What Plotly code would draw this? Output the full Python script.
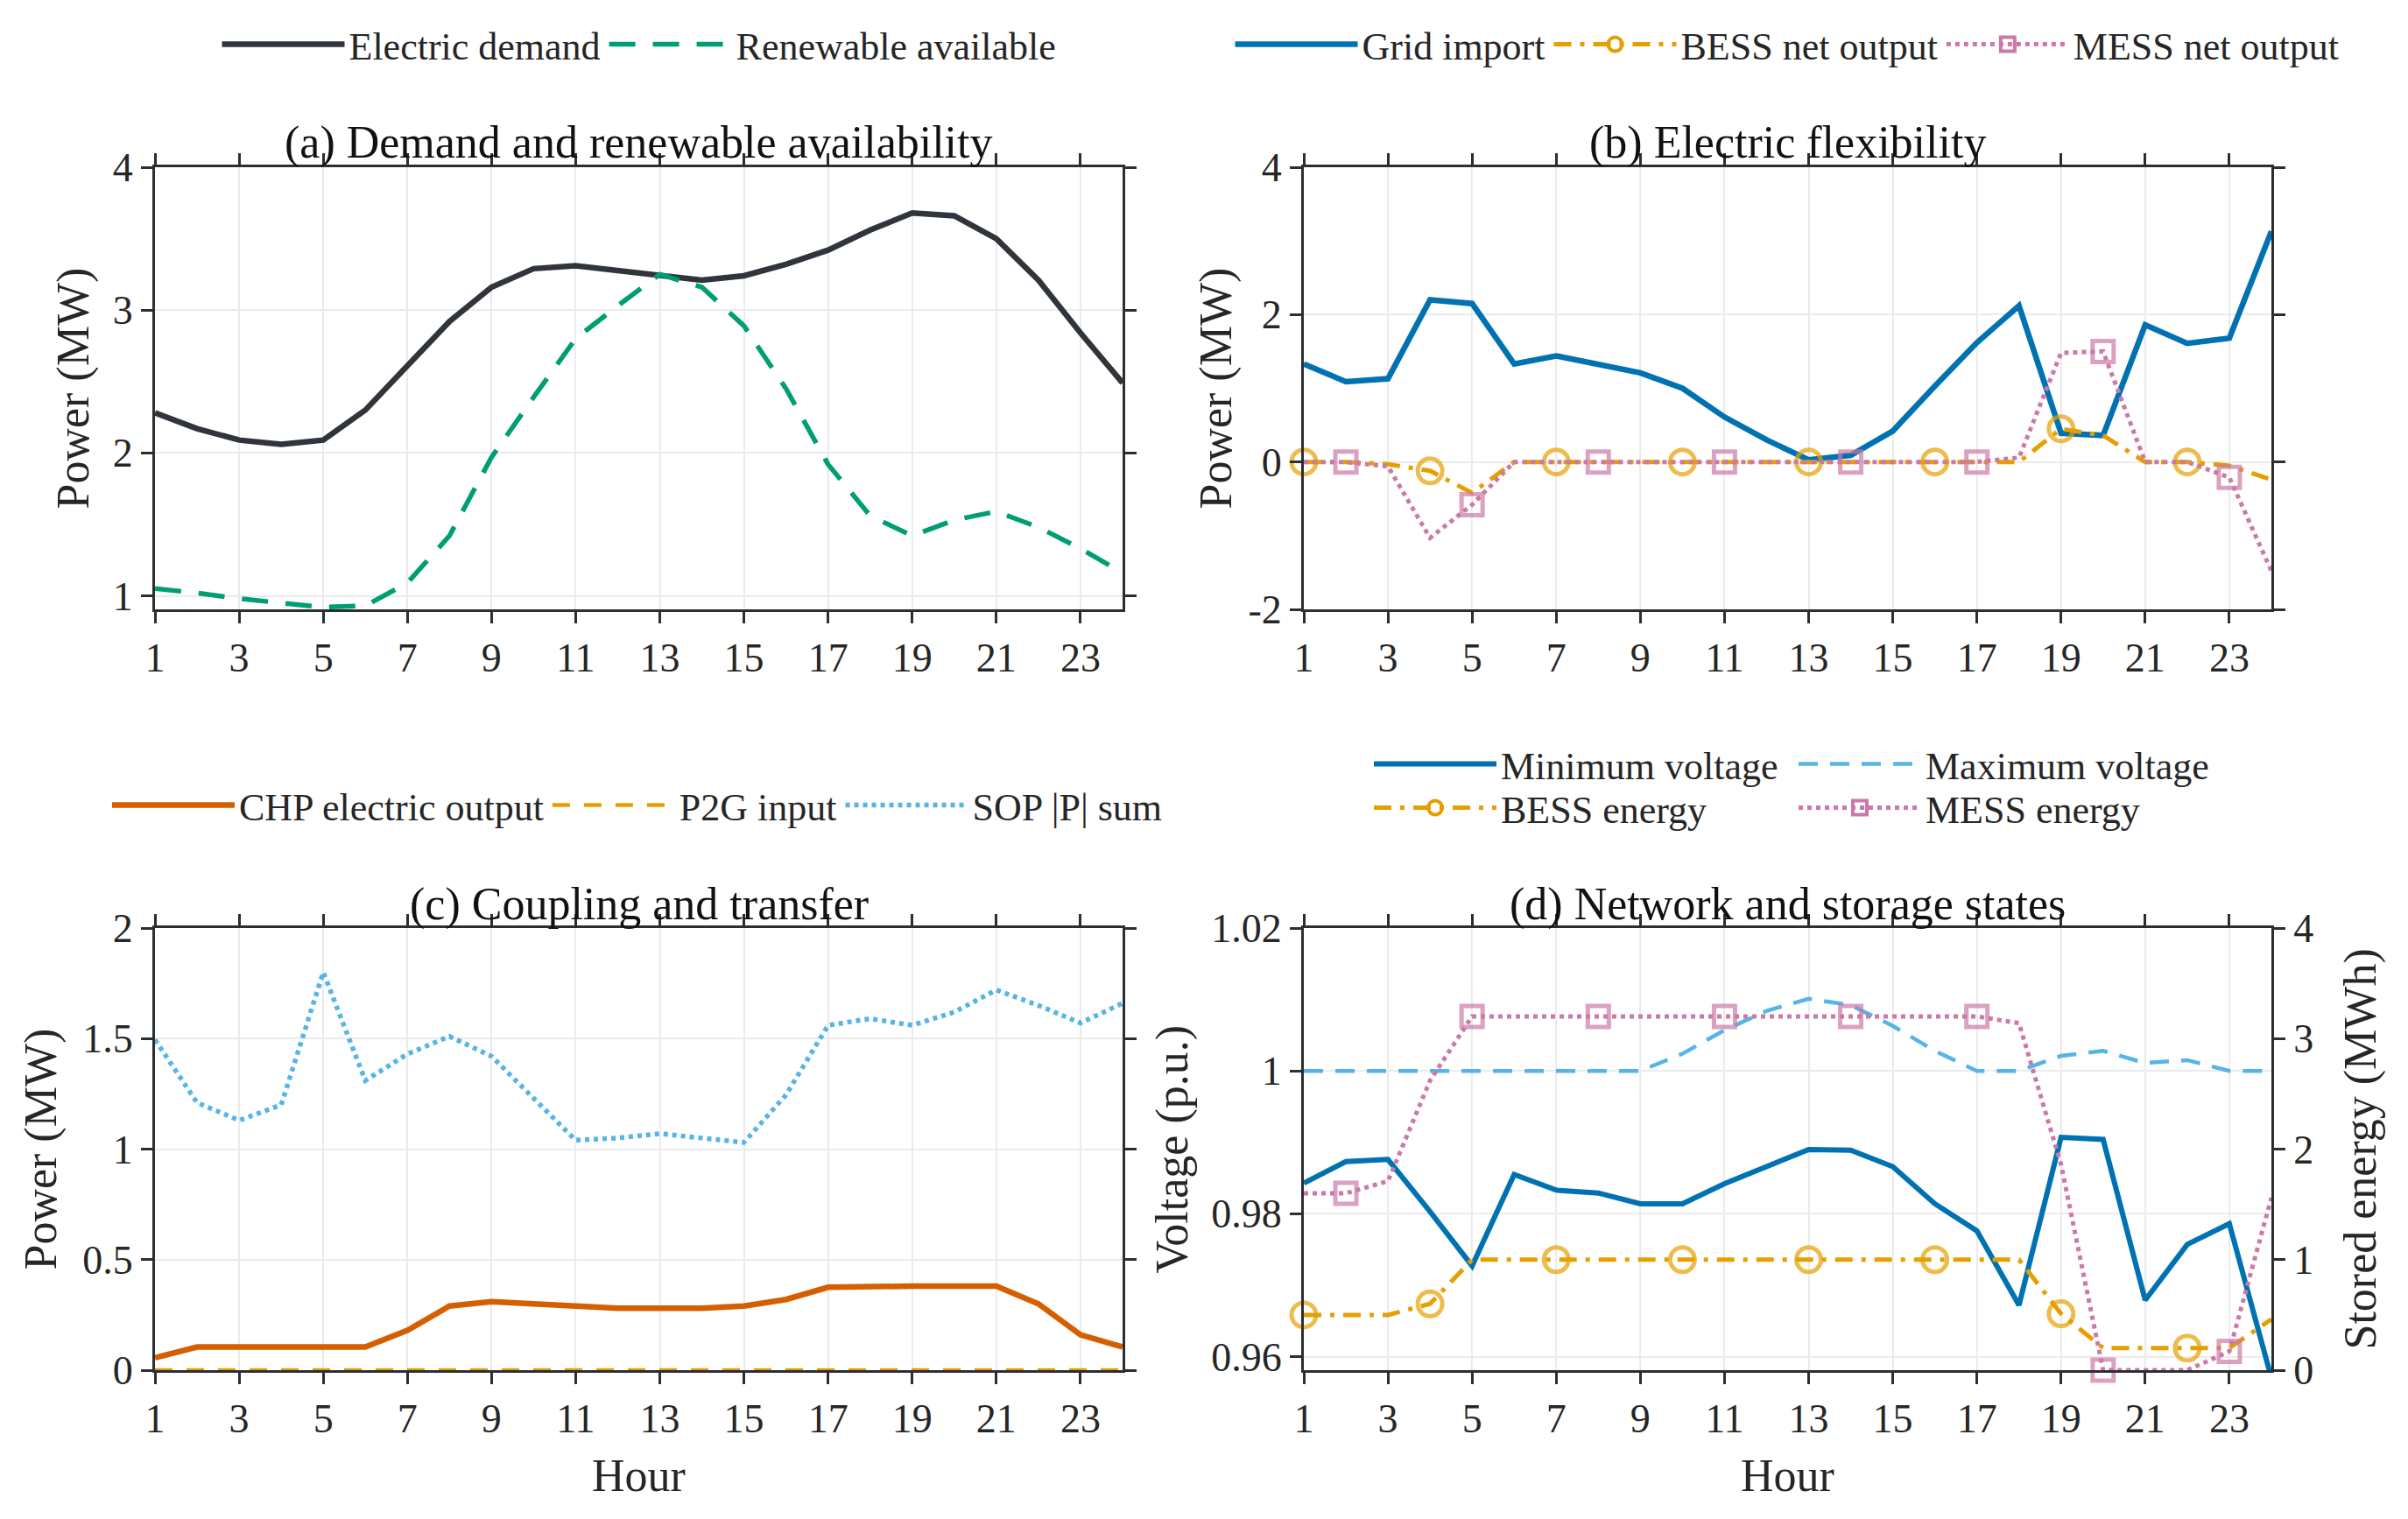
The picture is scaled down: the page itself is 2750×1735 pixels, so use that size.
import plotly.graph_objects as go

# hourly profiles
hours = list(range(1, 25))
hour_ticks = list(range(1, 24, 2))

electric_demand = [2.28, 2.17, 2.09, 2.06, 2.09, 2.30, 2.61, 2.92, 3.16, 3.29, 3.31, 3.28,
                   3.24, 3.21, 3.24, 3.32, 3.42, 3.56, 3.68, 3.66, 3.50, 3.21, 2.84, 2.49]
renewable_available = [1.05, 1.02, 0.98, 0.95, 0.92, 0.93, 1.09, 1.42, 1.97, 2.39, 2.80, 3.03,
                       3.25, 3.16, 2.89, 2.45, 1.92, 1.56, 1.42, 1.53, 1.59, 1.48, 1.33, 1.16]

grid_import = [1.33, 1.09, 1.13, 2.20, 2.15, 1.33, 1.44, 1.32, 1.21, 1.00, 0.61, 0.30,
               0.03, 0.09, 0.42, 1.03, 1.62, 2.12, 0.39, 0.36, 1.86, 1.61, 1.68, 3.13]
bess_net_output = [0.0, 0.0, -0.03, -0.12, -0.42, 0.0, 0.0, 0.0, 0.0, 0.0, 0.0, 0.0,
                   0.0, 0.0, 0.0, 0.0, 0.0, 0.0, 0.45, 0.36, 0.0, 0.0, -0.05, -0.24]
mess_net_output = [0.0, 0.0, -0.06, -1.03, -0.58, 0.0, 0.0, 0.0, 0.0, 0.0, 0.0, 0.0,
                   0.0, 0.0, 0.0, 0.0, 0.0, 0.06, 1.48, 1.50, 0.0, 0.0, -0.21, -1.48]

chp_electric_output = [0.056, 0.105, 0.105, 0.105, 0.105, 0.105, 0.18, 0.29, 0.31, 0.30, 0.285, 0.28,
                       0.28, 0.28, 0.29, 0.32, 0.375, 0.38, 0.38, 0.38, 0.38, 0.30, 0.16, 0.105]
p2g_input = [0, 0, 0, 0, 0, 0, 0, 0, 0, 0, 0, 0,
             0, 0, 0, 0, 0, 0, 0, 0, 0, 0, 0, 0]
sop_p_sum = [1.495, 1.21, 1.13, 1.20, 1.80, 1.31, 1.43, 1.51, 1.42, 1.23, 1.04, 1.05,
             1.07, 1.05, 1.03, 1.245, 1.56, 1.59, 1.56, 1.62, 1.72, 1.65, 1.57, 1.66]

min_voltage = [0.9843, 0.9873, 0.9876, 0.9803, 0.9727, 0.9855, 0.9833, 0.9829, 0.9814, 0.9814, 0.9842, 0.9866,
               0.9890, 0.9889, 0.9866, 0.9814, 0.9776, 0.9672, 0.9907, 0.9904, 0.9679, 0.9757, 0.9786, 0.9570]
max_voltage = [1.0, 1.0, 1.0, 1.0, 1.0, 1.0, 1.0, 1.0, 1.0, 1.0024, 1.0057, 1.0084,
               1.0101, 1.0092, 1.0063, 1.0028, 1.0, 1.0, 1.0021, 1.0028, 1.0011, 1.0015, 1.0, 1.0]
bess_energy = [0.5, 0.5, 0.5, 0.60, 1.0, 1.0, 1.0, 1.0, 1.0, 1.0, 1.0, 1.0,
               1.0, 1.0, 1.0, 1.0, 1.0, 1.0, 0.51, 0.2, 0.2, 0.2, 0.2, 0.46]
mess_energy = [1.60, 1.60, 1.71, 2.62, 3.2, 3.2, 3.2, 3.2, 3.2, 3.2, 3.2, 3.2,
               3.2, 3.2, 3.2, 3.2, 3.2, 3.14, 1.86, 0.0, 0.0, 0.0, 0.17, 1.56]

bess_marker_hours = [1, 4, 7, 10, 13, 16, 19, 22]
mess_marker_hours = [2, 5, 8, 11, 14, 17, 20, 23]

W, H = 2750, 1735
PAGE_PAD = 8  # default body margin of the html page

FONT = "Liberation Serif"
TXT = "#262626"
AX = "#2b2e33"
GRID = "#ebebeb"

C_DEMAND = "#30343b"
C_GREEN = "#009E73"
C_BLUE = "#0072B2"
C_ORANGE = "#E69F00"
C_PINK = "#CC79A7"
C_VERMILION = "#D55E00"
C_SKY = "#56B4E9"

DASH = "30px,20px"
DASHDOT = "20px,10px,5px,10px"
DOT = "5px,5px"


def px(x):
    return (x - PAGE_PAD) / W


def py(y):
    return 1 - (y - PAGE_PAD) / H


bess_sizes = [28 if h in bess_marker_hours else 0 for h in hours]
mess_sizes = [24 if h in mess_marker_hours else 0 for h in hours]

fig = go.Figure()


def add_line(y, name, color, width, dash, xaxis, yaxis, legend):
    fig.add_trace(go.Scatter(x=hours, y=y, name=name, mode="lines",
                             line=dict(color=color, width=width, dash=dash),
                             xaxis=xaxis, yaxis=yaxis, legend=legend))


def add_marked(y, name, color, dash, symbol, sizes, xaxis, yaxis, legend):
    # the line with markers only on every third hour
    fig.add_trace(go.Scatter(x=hours, y=y, name=name, mode="lines+markers",
                             line=dict(color=color, width=5, dash=dash),
                             marker=dict(symbol=symbol, size=sizes, color=color,
                                         line=dict(color=color, width=5)),
                             cliponaxis=False, showlegend=False,
                             xaxis=xaxis, yaxis=yaxis))
    # legend entry only
    fig.add_trace(go.Scatter(x=[None], y=[None], name=name, mode="lines+markers",
                             line=dict(color=color, width=5, dash=dash),
                             marker=dict(symbol=symbol, size=16, color=color,
                                         line=dict(color=color, width=4)),
                             xaxis=xaxis, yaxis=yaxis, legend=legend))


# (a)
add_line(electric_demand, "Electric demand", C_DEMAND, 6.5, "solid", "x", "y", "legend")
add_line(renewable_available, "Renewable available", C_GREEN, 5.5, DASH, "x", "y", "legend")

# (b)
add_line(grid_import, "Grid import", C_BLUE, 6.5, "solid", "x2", "y2", "legend2")
add_marked(bess_net_output, "BESS net output", C_ORANGE, DASHDOT, "circle-open", bess_sizes, "x2", "y2", "legend2")
add_marked(mess_net_output, "MESS net output", C_PINK, DOT, "square-open", mess_sizes, "x2", "y2", "legend2")

# (c)
add_line(chp_electric_output, "CHP electric output", C_VERMILION, 6.5, "solid", "x3", "y3", "legend3")
add_line(p2g_input, "P2G input", C_ORANGE, 4.5, "20px,16px", "x3", "y3", "legend3")
add_line(sop_p_sum, "SOP |P| sum", C_SKY, 5.5, DOT, "x3", "y3", "legend3")

# (d)
add_line(min_voltage, "Minimum voltage", C_BLUE, 6, "solid", "x4", "y4", "legend4")
add_line(max_voltage, "Maximum voltage", C_SKY, 4.5, "22px,14px", "x4", "y4", "legend4")
add_marked(bess_energy, "BESS energy", C_ORANGE, DASHDOT, "circle-open", bess_sizes, "x4", "y5", "legend5")
add_marked(mess_energy, "MESS energy", C_PINK, DOT, "square-open", mess_sizes, "x4", "y5", "legend5")

tick_font = dict(family=FONT, size=46, color=TXT)
left_dom = [px(177), px(1282)]
right_dom = [px(1489), px(2594)]
top_dom = [py(696), py(191)]
bot_dom = [py(1565), py(1060)]


def x_axis(domain, anchor):
    return dict(domain=domain, anchor=anchor, range=[1, 24], tickvals=hour_ticks,
                showline=True, linecolor=AX, linewidth=3, mirror="allticks",
                ticks="outside", ticklen=13, tickwidth=3, tickcolor=AX,
                showgrid=True, gridcolor=GRID, gridwidth=2, zeroline=False,
                tickfont=tick_font)


def y_axis(domain, anchor, rng, vals, text=None, mirror="allticks"):
    return dict(domain=domain, anchor=anchor, range=rng, tickvals=vals,
                ticktext=text if text else [str(v) for v in vals],
                showline=True, linecolor=AX, linewidth=3, mirror=mirror,
                ticks="outside", ticklen=13, tickwidth=3, tickcolor=AX,
                showgrid=True, gridcolor=GRID, gridwidth=2, zeroline=False,
                tickfont=tick_font)


fig.update_layout(
    xaxis=x_axis(left_dom, "y"),
    yaxis=y_axis(top_dom, "x", [0.905, 4], [1, 2, 3, 4]),
    xaxis2=x_axis(right_dom, "y2"),
    yaxis2=y_axis(top_dom, "x2", [-2, 4], [-2, 0, 2, 4], ["-2", "0", "2", "4"]),
    xaxis3=x_axis(left_dom, "y3"),
    yaxis3=y_axis(bot_dom, "x3", [0, 2], [0, 0.5, 1, 1.5, 2], ["0", "0.5", "1", "1.5", "2"]),
    xaxis4=x_axis(right_dom, "y4"),
    yaxis4=y_axis(bot_dom, "x4", [0.9581, 1.02], [0.96, 0.98, 1.0, 1.02],
                  ["0.96", "0.98", "1", "1.02"], mirror=False),
    yaxis5=dict(overlaying="y4", anchor="x4", side="right", range=[0, 4],
                tickvals=[0, 1, 2, 3, 4], showline=True, linecolor=AX, linewidth=3,
                ticks="outside", ticklen=13, tickwidth=3, tickcolor=AX,
                showgrid=False, zeroline=False, tickfont=tick_font),
)

legend_font = dict(family=FONT, size=44, color=TXT)
legend_base = dict(orientation="h", font=legend_font, bgcolor="rgba(0,0,0,0)",
                   itemwidth=140, yanchor="middle", traceorder="normal")
fig.update_layout(
    legend=dict(legend_base, x=px(730), xanchor="center", y=py(51)),
    legend2=dict(legend_base, x=px(2041), xanchor="center", y=py(51)),
    legend3=dict(legend_base, x=px(728), xanchor="center", y=py(920)),
    legend4=dict(legend_base, x=px(1564), xanchor="left", y=py(873), entrywidth=330),
    legend5=dict(legend_base, x=px(1564), xanchor="left", y=py(923), entrywidth=330),
)

title_font = dict(family=FONT, size=52, color="#111111")
label_font = dict(family=FONT, size=52, color=TXT)
annotations = []
for text, xc, yc in [("(a) Demand and renewable availability", sum(left_dom) / 2, py(163)),
                     ("(b) Electric flexibility", sum(right_dom) / 2, py(163)),
                     ("(c) Coupling and transfer", sum(left_dom) / 2, py(1033)),
                     ("(d) Network and storage states", sum(right_dom) / 2, py(1033))]:
    annotations.append(dict(text=text, x=xc, y=yc, xref="paper", yref="paper",
                            xanchor="center", yanchor="middle", showarrow=False, font=title_font))
for text, xc, yc in [("Power (MW)", px(83), sum(top_dom) / 2),
                     ("Power (MW)", px(1388), sum(top_dom) / 2),
                     ("Power (MW)", px(46), sum(bot_dom) / 2),
                     ("Voltage (p.u.)", px(1338), sum(bot_dom) / 2),
                     ("Stored energy (MWh)", px(2695), sum(bot_dom) / 2)]:
    annotations.append(dict(text=text, x=xc, y=yc, xref="paper", yref="paper", textangle=-90,
                            xanchor="center", yanchor="middle", showarrow=False, font=label_font))
for xc in [sum(left_dom) / 2, sum(right_dom) / 2]:
    annotations.append(dict(text="Hour", x=xc, y=py(1685), xref="paper", yref="paper",
                            xanchor="center", yanchor="middle", showarrow=False, font=label_font))

fig.update_layout(
    width=W, height=H,
    margin=dict(l=0, r=0, t=0, b=0, autoexpand=False),
    paper_bgcolor="white", plot_bgcolor="white",
    font=dict(family=FONT, color=TXT),
    annotations=annotations,
)

fig.write_html("out.html")
